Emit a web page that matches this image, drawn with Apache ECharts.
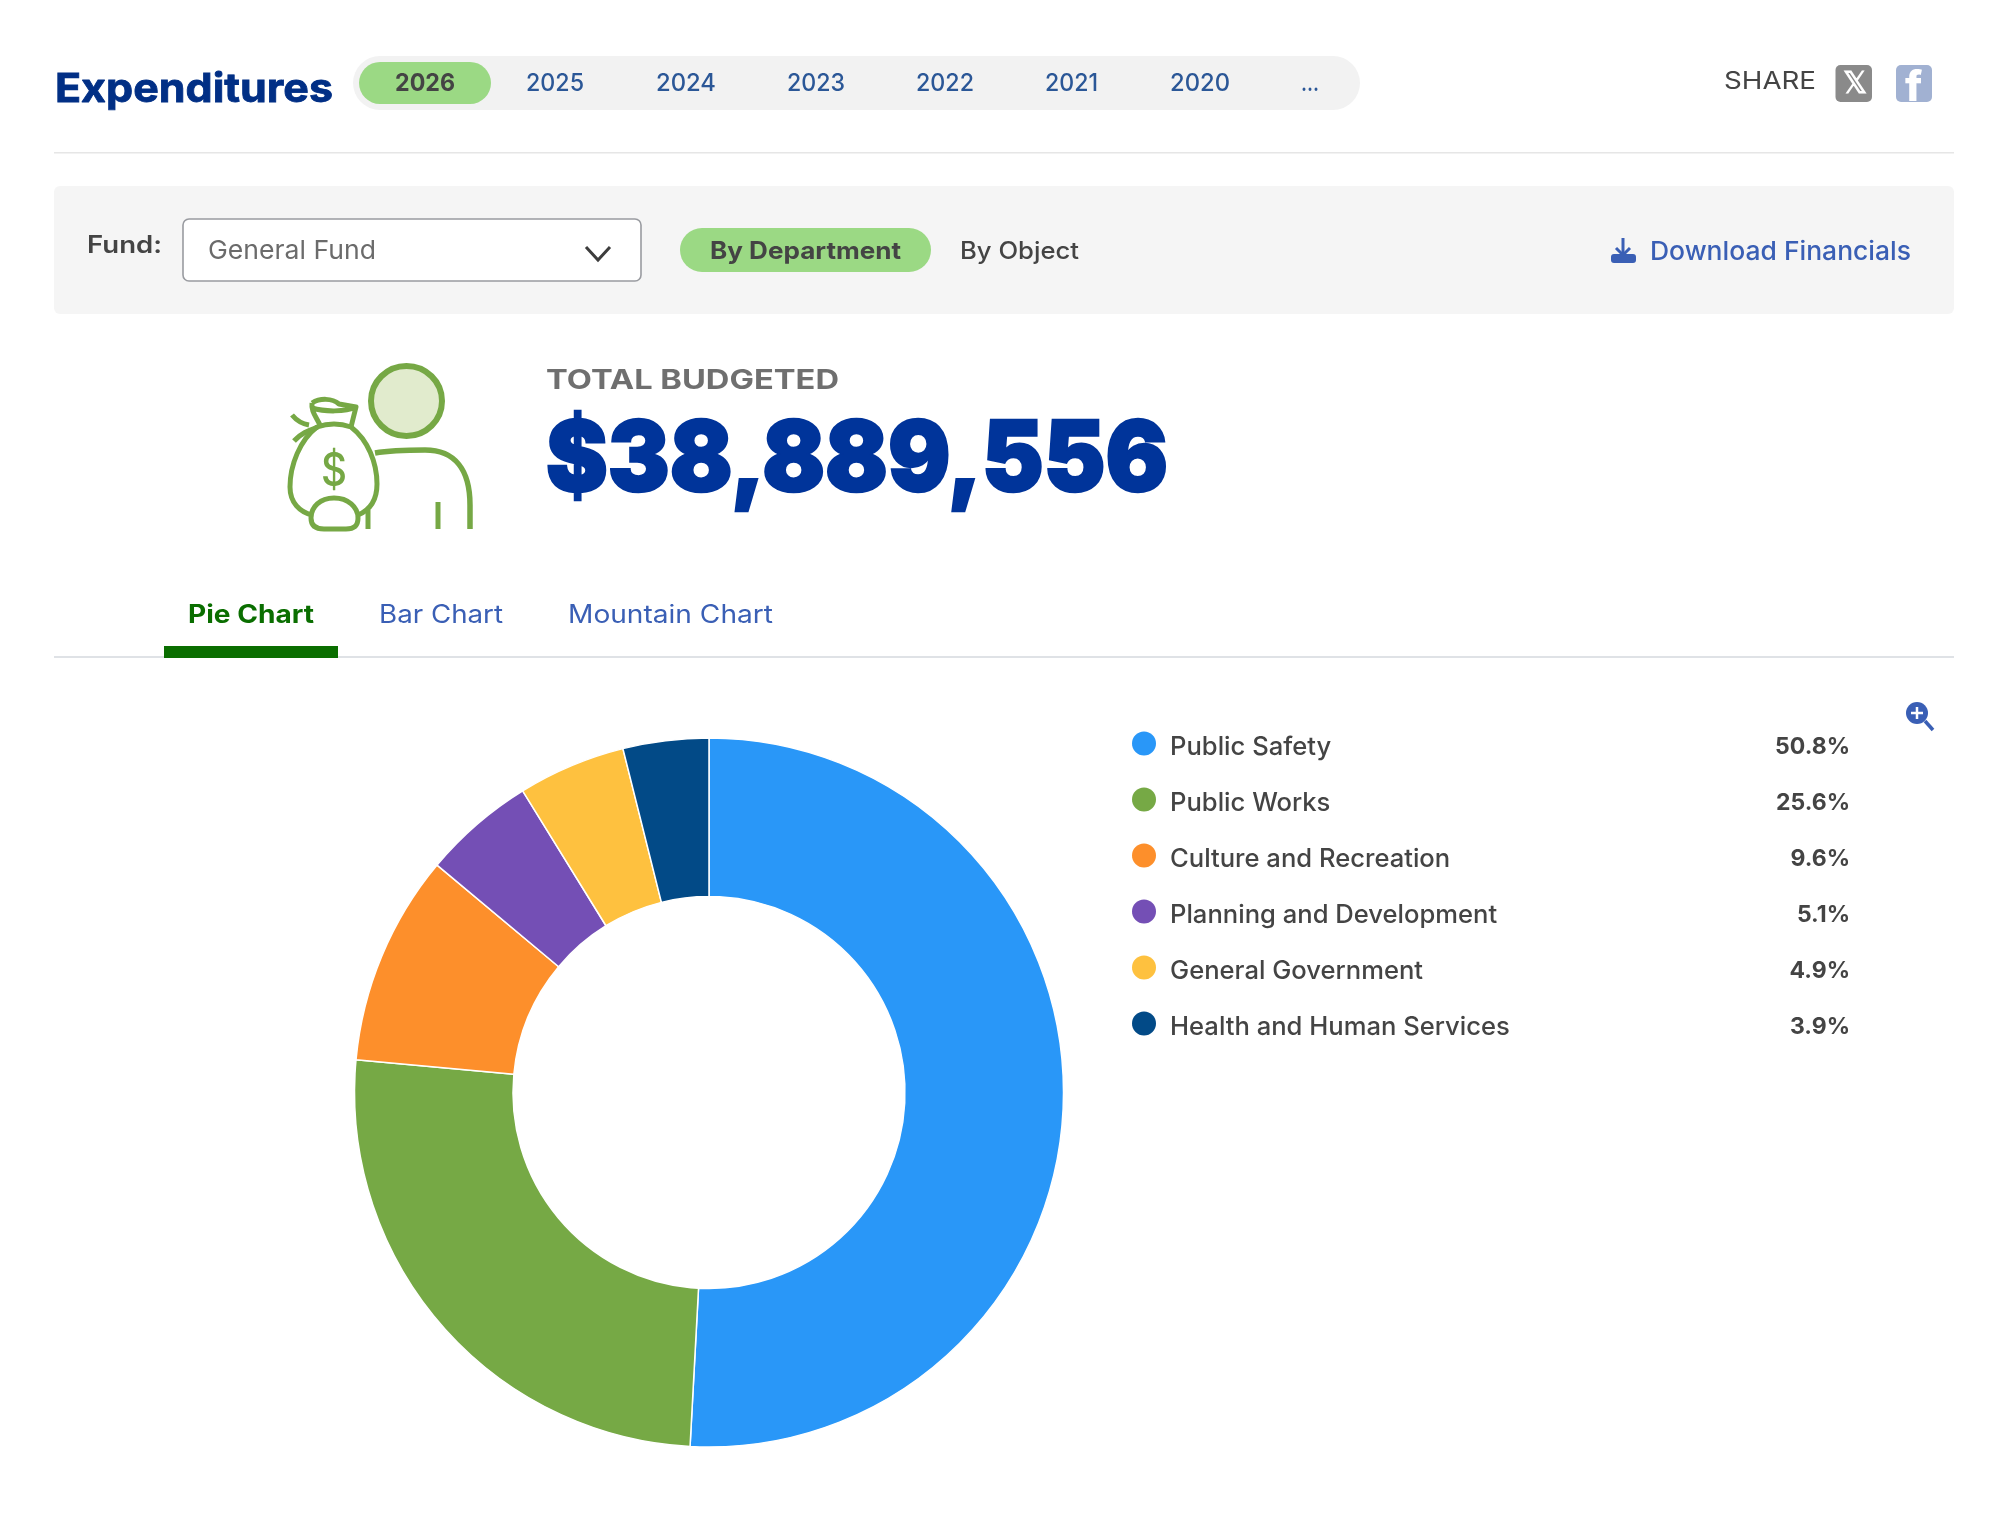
<!DOCTYPE html>
<html><head><meta charset="utf-8">
<script src="https://cdn.jsdelivr.net/npm/echarts@6/dist/echarts.min.js"></script>
<style>html,body{margin:0;padding:0;background:#fff}#c{width:2014px;height:1520px}</style>
</head><body><div id="c"></div>
<script>
const departments = ['Public Safety','Public Works','Culture and Recreation','Planning and Development','General Government','Health and Human Services'];
const shares = [50.8,25.6,9.6,5.1,4.9,3.9];
const sliceColors = ['#2997f8','#76a945','#fd8f2b','#744fb5','#fec13f','#024a87'];
const years = ['2026','2025','2024','2023','2022','2021','2020','...'];
const yearLefts = [395,526,656,787,916,1045,1170,1301];
const yearWidths = [60,58,60,58,58,53,60,18];
const FONT = 'Inter';

const probe = document.createElement('canvas').getContext('2d');
function t(x, cy, text, size, weight, color, width, thicken){
  probe.font = weight+' '+size+'px '+FONT;
  const sx = width ? width/probe.measureText(text).width : 1;
  return {type:'text',x:x,y:cy,scaleX:sx,silent:true,
    style:{text:text,fontSize:size,fontWeight:weight,fontFamily:FONT,fill:color,
      stroke:thicken?color:null,lineWidth:thicken||0,
      align:'left',verticalAlign:'middle',textAlign:'left',textVerticalAlign:'middle'}};
}
function rr(x,y,w,h,r,fill,stroke,lw){
  return {type:'rect',silent:true,shape:{x:x,y:y,width:w,height:h,r:r},style:{fill:fill,stroke:stroke||null,lineWidth:lw||0}};
}
let pathId=0;
function p(d,fill,stroke,lw){
  const name='iconPath'+(pathId++);
  echarts.graphic.registerShape(name,echarts.graphic.extendPath(d,{}));
  return {type:name,silent:true,style:{fill:fill||'none',stroke:stroke||null,lineWidth:lw||0,lineCap:'butt',lineJoin:'round'}};
}
function line(x1,y1,x2,y2,c,w){
  return {type:'line',silent:true,shape:{x1:x1,y1:y1,x2:x2,y2:y2},style:{stroke:c,lineWidth:w,lineCap:'butt'}};
}
const GREEN='#76a845', PILL='#9bd984', DARK='#444444', LINK='#3a5fb5', YEAR='#2b5797';
const els = [];
// header
els.push(t(55,90,'Expenditures',40,700,'#012f85',278,0.8));
els.push(rr(353,56,1007,54,27,'#f2f2f2'));
els.push(rr(359,62,132,42,21,PILL));
years.forEach((y,i)=>els.push(t(yearLefts[i],84,y,24,i===0?700:500,i===0?DARK:YEAR,yearWidths[i])));
els.push(t(1724,81.5,'SHARE',24,400,DARK,92));
els.push(rr(1835.5,65,36.5,37,5,'#8a8a8a'));
els.push(t(1843,84,'𝕏',30,700,'#ffffff'));
els.push(rr(1896,65,36,37,5,'#a1b1d2'));
els.push(t(1905,88,'f',42,800,'#ffffff'));
els.push(rr(54,152,1900,1.5,0,'#e6e6e6'));
// filter panel
els.push(rr(54,186,1900,128,6,'#f5f5f5'));
els.push(t(87,246,'Fund:',24,600,DARK,75));
els.push(rr(183,219,458,62,6,'#ffffff','#999ba0',1.6));
els.push(t(208,251,'General Fund',26,400,'#6b6b6b',168));
els.push({type:'polyline',silent:true,shape:{points:[[586,247],[598,260],[610,247]]},style:{stroke:'#3d3d3d',fill:'none',lineWidth:3}});
els.push(rr(680,228,251,44,22,PILL));
els.push(t(710,252,'By Department',24,700,DARK,191));
els.push(t(960,252,'By Object',24,500,DARK,119));
els.push(line(1623,238,1623,255,LINK,3));
els.push({type:'polyline',silent:true,shape:{points:[[1616,248],[1623,255],[1630,248]]},style:{stroke:LINK,fill:'none',lineWidth:3}});
els.push(rr(1611,254,25,9,3,LINK));
els.push(t(1650,252,'Download Financials',26,500,LINK,261));
// person + money bag icon
els.push({type:'ellipse',silent:true,shape:{cx:406.5,cy:401,rx:35.5,ry:35},style:{fill:'#e1ebcd',stroke:GREEN,lineWidth:6}});
els.push(p('M375 453 Q 392 450 425 450 C 455 450 470 470 470 505 L 470 529','none',GREEN,5.5));
els.push(line(438,502,438,529,GREEN,5));
els.push(line(368,510,368,529,GREEN,5));
els.push(p('M317 427 C 300 440 290 465 290 487 C 290 503 300 512 312 515 L 358 515 C 370 510 377 500 377 484 C 377 463 368 440 351 427 C 340 423 328 423 317 427 Z','#ffffff',GREEN,5));
els.push(p('M312 403 C 320 398 332 398 339 404 L 356 407 L 351 427 M312 403 C 311 412 316 416 321 427 M312 408 C 325 412 345 412 356 407 M294 441 C 301 433 310 430 318 427 M292 415 C 297 421 303 424 309 425','none',GREEN,5));
els.push(p('M334 498 C 320 498 311 507 311 518 C 311 526 316 529 324 529 L 346 529 C 354 529 358 526 358 518 C 358 507 348 498 334 498 Z','#ffffff',GREEN,5));
els.push(t(321,472,'$',46,500,GREEN,26));
// total
els.push(t(546,381,'TOTAL BUDGETED',27,700,'#6f6f6f',293));
els.push(t(546,462,'$38,889,556',98,900,'#00349a',622,2.5));
// tabs
els.push(t(188,615,'Pie Chart',25,700,'#0a6e00',126));
els.push(t(379,615,'Bar Chart',25,400,LINK,124));
els.push(t(568,615,'Mountain Chart',25,400,LINK,205));
els.push(rr(54,656,1900,2,0,'#dfe2e6'));
els.push(rr(164,646,174,12,0,'#0a6e00'));
// zoom icon
els.push({type:'circle',silent:true,shape:{cx:1917,cy:713,r:11},style:{fill:LINK}});
els.push(line(1925,721,1933,730,LINK,3.5));
els.push(line(1911,713,1923,713,'#fff',2.5));
els.push(line(1917,707,1917,719,'#fff',2.5));

const pieData = departments.map((n,i)=>({name:n,value:shares[i],itemStyle:{color:sliceColors[i]}}));
const chart = echarts.init(document.getElementById('c'),null,{width:2014,height:1520});
chart.setOption({
  animation:false,
  backgroundColor:'#ffffff',
  legend:{
    orient:'vertical',left:1132,top:726.5,padding:0,itemWidth:24,itemHeight:24,itemGap:22,icon:'circle',selectedMode:false,
    formatter:n=>'{n|'+n+'}{v|'+shares[departments.indexOf(n)].toFixed(1)+'%}',
    textStyle:{fontFamily:FONT,rich:{
      n:{width:595,fontSize:25.6,fontWeight:500,fontFamily:FONT,color:DARK,padding:[8,0,0,9],lineHeight:33},
      v:{width:85,align:'right',fontSize:23,fontWeight:700,fontFamily:FONT,color:DARK,padding:[8,0,0,0],lineHeight:33}
    }},
    itemStyle:{borderWidth:0}
  },
  series:[{type:'pie',center:[709,1092.5],radius:[196,354.5],startAngle:90,clockwise:true,silent:true,
    label:{show:false},labelLine:{show:false},
    itemStyle:{borderColor:'#ffffff',borderWidth:1.5},
    data:pieData}],
  graphic:{elements:els}
});
</script></body></html>
